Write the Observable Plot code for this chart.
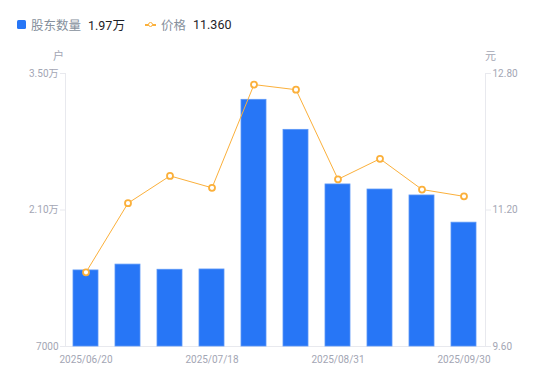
<!DOCTYPE html>
<html>
<head>
<meta charset="utf-8">
<script src="https://cdn.jsdelivr.net/npm/d3@7"></script>
<script src="https://cdn.jsdelivr.net/npm/@observablehq/plot@0.6"></script>
<style>
  html, body { margin: 0; padding: 0; background: #fff; }
  body { width: 550px; height: 381px; overflow: hidden; font-family: Roboto, "Noto Sans CJK SC", sans-serif; }
  #legend { height: 50px; position: relative; font-size: 12.5px; }
  .item { position: absolute; top: 15px; display: flex; align-items: center; white-space: nowrap; }
  .name { color: #86909c; }
  .val { color: #1d2129; margin-left: 7px; }
  .sq { width: 9px; height: 9px; background: #2776f6; border-radius: 1.5px; margin-right: 5px; }
  .ln { position: relative; width: 11px; height: 9px; margin-right: 5px; }
  .ln::before { content: ""; position: absolute; left: 0; right: 0; top: 4px; height: 1.5px; background: #fbb03b; }
  .ln::after { content: ""; position: absolute; left: 2.5px; top: 1.5px; width: 3px; height: 3px; border: 1.5px solid #fbb03b; border-radius: 50%; background: #fff; }
  svg { display: block; }
</style>
</head>
<body>
<div id="legend"></div>
<div id="chart"></div>
<script>
const dates = ["2025/06/20","2025/06/30","2025/07/10","2025/07/18","2025/07/31","2025/08/15","2025/08/31","2025/09/10","2025/09/19","2025/09/30"];
const holders = [14800, 15400, 14870, 14900, 32300, 29220, 23620, 23100, 22490, 19700];
const prices = [10.47, 11.28, 11.60, 11.46, 12.67, 12.61, 11.56, 11.80, 11.44, 11.36];
const xTickLabels = ["2025/06/20","2025/07/18","2025/08/31","2025/09/30"];
const leftTicks = [7000, 21000, 35000];
const rightTicks = [9.6, 11.2, 12.8];
const seriesNames = ["股东数量", "价格"];
const legendValues = ["1.97万", "11.360"];
const unitLeft = "户", unitRight = "元";

const yMin = leftTicks[0], yMax = leftTicks[leftTicks.length - 1];
const pMin = rightTicks[0], pMax = rightTicks[rightTicks.length - 1];
const toLeft = p => yMin + (p - pMin) / (pMax - pMin) * (yMax - yMin);
const toRight = v => pMin + (v - yMin) / (yMax - yMin) * (pMax - pMin);

const data = dates.map((d, i) => ({date: d, holders: holders[i], price: prices[i], priceY: toLeft(prices[i])}));

document.getElementById("legend").innerHTML = `
  <div class="item" style="left:17px"><span class="sq"></span><span class="name">${seriesNames[0]}</span><span class="val">${legendValues[0]}</span></div>
  <div class="item" style="left:145px"><span class="ln"></span><span class="name">${seriesNames[1]}</span><span class="val">${legendValues[1]}</span></div>`;

const grey = "#a3a6b4";
const lineGrey = "#e8e9ee";

const chart = Plot.plot({
  width: 550,
  height: 331,
  marginTop: 23,
  marginBottom: 35,
  marginLeft: 65,
  marginRight: 65,
  style: {fontFamily: 'Roboto, "Noto Sans CJK SC", sans-serif', fontSize: "10px", color: grey, background: "#fff"},
  x: {type: "band", domain: dates, paddingInner: 0.4, paddingOuter: 0.2},
  y: {domain: [yMin, yMax]},
  marks: [
    Plot.frame({anchor: "left", stroke: lineGrey, strokeOpacity: 1}),
    Plot.frame({anchor: "right", stroke: lineGrey, strokeOpacity: 1}),
    Plot.ruleY([yMin], {stroke: lineGrey}),
    Plot.barY(data, {x: "date", y1: yMin, y2: "holders", fill: "#2776f6", stroke: "#5b97f7", strokeWidth: 0.8}),
    Plot.line(data, {x: "date", y: "priceY", stroke: "#fbb03b", strokeWidth: 1, curve: "linear"}),
    Plot.dot(data, {x: "date", y: "priceY", r: 3, fill: "#fff", stroke: "#fbb03b", strokeWidth: 1.8}),
    Plot.axisY({anchor: "left", ticks: leftTicks, tickSize: 5, tickPadding: 2, stroke: lineGrey, label: null,
      tickFormat: v => v >= 10000 ? (v / 10000).toFixed(2) + "万" : String(v), fill: grey}),
    Plot.axisY({anchor: "right", ticks: leftTicks, tickSize: 5, tickPadding: 2, stroke: lineGrey, label: null,
      tickFormat: v => toRight(v).toFixed(2), fill: grey}),
    Plot.axisX({ticks: xTickLabels, tickSize: 0, tickPadding: 9, label: null, fill: grey}),
    Plot.text([unitLeft], {frameAnchor: "top-left", dx: -7, dy: -21, text: d => d, fill: grey, fontSize: 11, textAnchor: "middle", lineAnchor: "top"}),
    Plot.text([unitRight], {frameAnchor: "top-right", dx: 5, dy: -21, text: d => d, fill: grey, fontSize: 11, textAnchor: "middle", lineAnchor: "top"})
  ]
});
document.getElementById("chart").appendChild(chart);
</script>
</body>
</html>
